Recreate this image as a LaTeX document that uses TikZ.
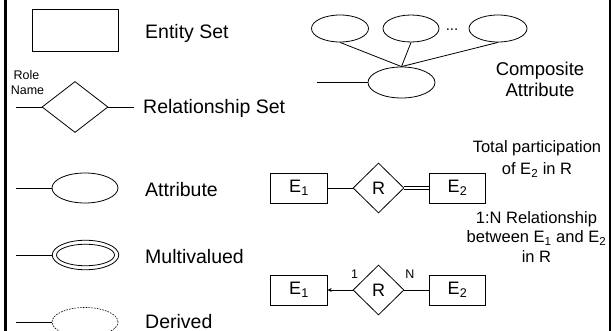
\documentclass[tikz,border=0pt]{standalone}
\usepackage{fontspec}
\setmainfont{Liberation Sans}
\usetikzlibrary{shapes.geometric,arrows.meta}
\tikzset{
  shp/.style={draw, line width=0.8pt, inner sep=0pt},
  entbox/.style={shp, rectangle, minimum width=56.5pt, minimum height=30pt, font=\fontsize{18}{20}\selectfont},
  relbox/.style={shp, diamond, minimum width=51pt, minimum height=50pt, font=\fontsize{18}{20}\selectfont},
  attr/.style={shp, ellipse, minimum width=66pt, minimum height=30pt},
  topattr/.style={shp, ellipse, minimum width=57pt, minimum height=27pt},
  lab/.style={inner sep=0pt, anchor=base west, font=\fontsize{19.5}{22}\selectfont},
  note/.style={inner sep=0pt, anchor=base, font=\fontsize{16.5}{19}\selectfont},
  comp/.style={inner sep=0pt, anchor=base, font=\fontsize{18.5}{21}\selectfont},
  small/.style={inner sep=0pt, anchor=base, font=\fontsize{12.5}{14}\selectfont},
  conn/.style={line width=0.8pt},
}
\begin{document}
\begin{tikzpicture}[x=1pt, y=-1pt]
\useasboundingbox (0,0) rectangle (613,331);
% frame lines
\coordinate (bl1) at (5,0); \coordinate (bl2) at (5,331);
\coordinate (br1) at (610,0); \coordinate (br2) at (610,331);
\draw[line width=3pt] (bl1) -- (bl2);
\draw[line width=1.2pt] (br1) -- (br2);

% Entity set
\node[shp, rectangle, minimum width=86pt, minimum height=42pt] (es) at (75,30) {};
\node[lab] (esl) at (145,39) {Entity Set};

% Relationship set
\node[shp, diamond, minimum width=66pt, minimum height=51pt] (rel) at (75,107) {};
\coordinate (rl) at (16,107);
\coordinate (rr) at (134,107);
\draw[conn] (rl) -- (rel.west);
\draw[conn] (rel.east) -- (rr);
\node[small] (role) at (26.5,80) {Role};
\node[small] (rname) at (27.5,95) {Name};
\node[lab] (rell) at (143,114) {Relationship Set};

% Attribute
\node[attr] (att) at (85,188) {};
\coordinate (al) at (16,188);
\draw[conn] (al) -- (att.west);
\node[lab] (attl) at (145,197) {Attribute};

% Multivalued
\node[attr, minimum width=66.5pt, minimum height=29.5pt] (mv) at (85.5,255) {};
\node[shp, ellipse, minimum width=58pt, minimum height=21.5pt] (mvin) at (mv.center) {};
\coordinate (ml) at (16,255);
\draw[conn] (ml) -- (mv.west);
\node[lab] (mvl) at (145,263) {Multivalued};

% Derived
\node[attr, line width=0.6pt, dash pattern=on 1.6pt off 1.2pt, minimum height=29pt] (der) at (85,322) {};
\coordinate (dl) at (16,322);
\draw[conn] (dl) -- (der.west);
\node[lab] (derl) at (145,328) {Derived};

% Composite attribute
\node[topattr] (c1) at (340,28.5) {};
\node[topattr, minimum width=56pt] (c2) at (411,28.5) {};
\node[topattr, minimum width=58pt] (c3) at (498,28.5) {};
\node[inner sep=0pt, anchor=base, font=\fontsize{15}{16}\selectfont] (dots) at (452,30.5) {...};
\node[shp, ellipse, minimum width=67pt, minimum height=31pt] (cb) at (401.5,82.5) {};
\coordinate (cl) at (317,82.5);
\draw[conn] (cl) -- (cb.west);
\draw[conn] (c1.south) -- (cb.north);
\draw[conn] (c2.south) -- (cb.north);
\draw[conn] (c3.south) -- (cb.north);
\node[comp] (compa) at (540,76) {Composite};
\node[comp] (compb) at (540,97) {Attribute};

% Total participation
\node[entbox] (e1a) at (299,188) {E\textsubscript{1}};
\node[relbox] (r1) at (378.5,188) {R};
\node[entbox] (e2a) at (457.5,188) {E\textsubscript{2}};
\draw[conn] (e1a.east) -- (r1.west);
\draw[line width=0.7pt, double, double distance=1.8pt] (r1.east) -- (e2a.west);
\node[note] (tp1) at (537,153) {Total participation};
\node[note] (tp2) at (537,175) {of E\textsubscript{2} in R};

% 1:N relationship
\node[entbox] (e1b) at (299,290) {E\textsubscript{1}};
\node[relbox] (r2) at (378.5,290) {R};
\node[entbox] (e2b) at (457.5,290) {E\textsubscript{2}};
\draw[conn, -{Stealth[length=4pt,width=4pt]}] (r2.west) -- (e1b.east);
\draw[conn] (r2.east) -- (e2b.west);
\node[small] (one) at (354.5,278) {1};
\node[small] (en) at (410,278) {N};
\node[note] (nn1) at (536.5,223) {1:N Relationship};
\node[note] (nn2) at (536.5,243) {between E\textsubscript{1} and E\textsubscript{2}};
\node[note] (nn3) at (536.5,262) {in R};
\end{tikzpicture}
\end{document}
